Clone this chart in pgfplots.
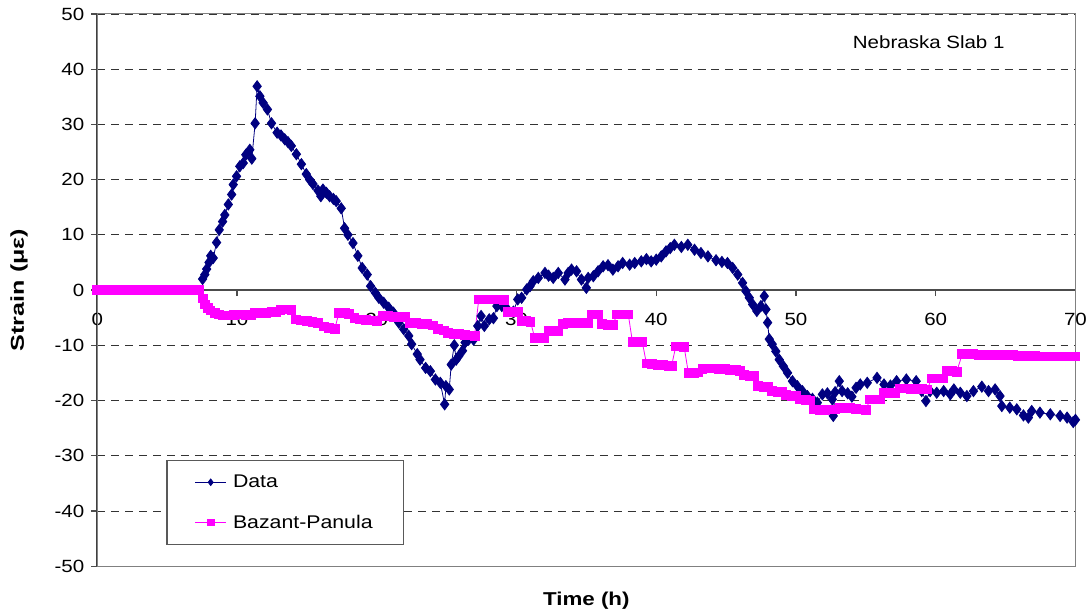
\documentclass[border=0pt]{standalone}
\usepackage{fontspec}
\setmainfont{Liberation Sans}
\usepackage{pgfplots}
\pgfplotsset{compat=1.18}
\definecolor{navy}{RGB}{0,0,128}
\definecolor{magen}{RGB}{255,0,255}
\definecolor{framegray}{RGB}{128,128,128}

\begin{document}
\begin{tikzpicture}[font=\fontsize{13.3}{16}\selectfont]
\begin{axis}[
  scale only axis,
  width=735.75pt, height=415.3pt,
  xmin=0, xmax=70, ymin=-50, ymax=50,
  axis x line=middle, axis y line=left,
  x axis line style={-, black!70, line width=0.9pt},
  y axis line style={-, black!75, line width=1.4pt},
  xtick={0,10,...,70}, ytick={-50,-40,...,50},
  tick align=outside, major tick length=4.5pt,
  tick style={black!70, line width=0.9pt},
  hide obscured x ticks=false,
  /pgf/number format/assume math mode=true,
  xticklabel style={anchor=north, xscale=1.16, yshift=-9.5pt},
  yticklabel style={anchor=east, xscale=1.16, xshift=-1pt},
  ymajorgrids,
  grid style={black!80, line width=0.6pt, dash pattern=on 6pt off 4.5pt},
  xlabel={\scalebox{1.2}[1]{\bfseries Time (h)}},
  ylabel={\scalebox{1.35}[1]{\bfseries Strain (με)}},
  xlabel style={at={(axis description cs:0.5,-0.062)}, anchor=center, font=\fontsize{14}{17}\selectfont},
  ylabel style={at={(axis description cs:-0.08,0.5)}, anchor=center, font=\fontsize{14}{17}\selectfont},
  clip=false,
  legend style={at={(axis description cs:0.0708,0.1927)}, anchor=north west,
    draw=black!65, line width=0.9pt, fill=white,
    inner xsep=21pt, inner ysep=9pt, row sep=15pt, column sep=3pt,
    font=\fontsize{13.8}{16}\selectfont, nodes={inner sep=2pt}},
  legend cell align=left,
  legend image code/.code={\draw[mark repeat=2,mark phase=2,#1] plot coordinates {(0pt,0pt) (11.5pt,0pt) (23pt,0pt)};},
  legend image post style={mark size=2.5pt},
]
\draw[framegray, line width=0.75pt] (rel axis cs:0,0) rectangle (rel axis cs:1,1);
\path (axis description cs:-0.0994,-0.089) rectangle (axis description cs:1.0138,1.0253);

% measured strain
\addplot[navy, line width=0.6pt, mark=diamond*, mark size=4.2pt] coordinates {
(7.54,2.0) (7.7,2.8) (7.83,3.8) (8.0,5.0) (8.12,6.2) (8.3,5.8) (8.54,8.6) (8.73,10.9)
(8.97,12.4) (9.13,13.6) (9.38,15.5) (9.62,17.3) (9.73,19.1) (9.97,20.6) (10.2,22.4)
(10.45,23.0) (10.63,24.5) (10.92,25.4) (11.06,23.8) (11.3,30.2) (11.44,36.9) (11.64,35.1)
(11.87,33.9) (12.18,32.7) (12.47,30.2) (12.87,28.5) (13.15,28.0) (13.42,27.3) (13.65,26.8)
(13.89,26.1) (14.25,24.6) (14.61,22.8) (14.96,21.0) (15.2,20.0) (15.44,19.2) (15.8,18.0)
(16.0,17.0) (16.15,18.2) (16.4,17.6) (16.63,17.0) (16.9,16.5) (17.1,16.1) (17.46,14.8)
(17.7,11.2) (17.94,10.0) (18.3,8.5) (18.65,6.2) (18.96,4.0) (19.32,2.8) (19.56,0.7)
(19.9,-0.5) (20.15,-1.4) (20.5,-2.3) (20.86,-3.2) (21.2,-4.1) (21.58,-5.9) (21.93,-7.1)
(22.29,-8.3) (22.5,-9.8) (22.9,-11.6) (23.1,-12.6) (23.5,-14.1) (23.84,-14.7) (24.2,-16.2)
(24.55,-16.8) (24.86,-20.7) (24.95,-17.4) (25.19,-18.0) (25.33,-13.5) (25.55,-10.0)
(25.69,-12.6) (25.86,-12.0) (26.14,-11.0) (26.33,-9.5) (26.57,-9.0) (26.93,-9.0)
(27.23,-6.5) (27.47,-4.7) (27.7,-6.5) (28.05,-5.3) (28.35,-5.1) (28.6,-2.9) (28.95,-2.9)
(29.3,-3.3) (29.78,-3.9) (30.09,-1.7) (30.37,-1.4) (30.73,0.1) (30.97,0.7) (31.2,1.6)
(31.56,2.2) (32.04,3.1) (32.3,2.6) (32.63,2.2) (32.99,3.1) (33.47,1.9) (33.7,3.1)
(33.94,3.7) (34.3,3.4) (34.65,1.9) (35.0,0.4) (35.13,2.2) (35.5,2.5) (35.84,3.4)
(36.2,4.3) (36.55,4.5) (36.9,3.7) (37.27,4.3) (37.6,4.9) (38.1,4.6) (38.46,4.9)
(38.93,5.2) (39.3,5.6) (39.64,5.2) (40.0,5.5) (40.36,6.1) (40.7,7.0) (41.0,7.6)
(41.3,8.2) (41.8,7.8) (42.26,8.2) (42.74,7.3) (43.2,6.7) (43.7,6.1) (44.28,5.4)
(44.7,5.1) (45.1,4.9) (45.47,4.0) (45.83,2.8) (46.18,1.3) (46.42,-0.2) (46.66,-1.4)
(46.9,-2.6) (47.2,-3.8) (47.49,-2.9) (47.73,-1.1) (47.85,-3.5) (47.97,-5.9) (48.09,-8.9)
(48.3,-9.8) (48.56,-11.1) (48.8,-12.6) (49.1,-13.8) (49.4,-15.0) (49.75,-16.5)
(50.1,-17.4) (50.46,-18.3) (50.82,-19.2) (51.18,-19.7) (51.53,-20.4) (51.89,-18.9)
(52.25,-18.7) (52.6,-19.8) (52.67,-22.8) (52.8,-18.5) (53.1,-16.5) (53.3,-18.3)
(53.7,-18.7) (54.0,-19.3) (54.3,-17.7) (54.6,-17.1) (55.1,-16.8) (55.8,-15.9)
(56.3,-17.1) (56.76,-17.3) (57.2,-16.5) (57.9,-16.2) (58.6,-16.5) (59.0,-18.3)
(59.3,-20.1) (59.6,-18.3) (60.07,-18.6) (60.57,-18.3) (61.04,-18.9) (61.3,-18.0)
(61.76,-18.6) (62.23,-19.2) (62.7,-18.3) (63.3,-17.5) (63.78,-18.3) (64.25,-18.0)
(64.6,-19.2) (64.73,-21.0) (65.3,-21.3) (65.8,-21.6) (66.28,-22.7) (66.63,-23.1)
(66.87,-21.9) (67.46,-22.2) (68.2,-22.5) (68.9,-22.8) (69.4,-23.1) (69.84,-23.9) (70.0,-23.5)
};
\addlegendentry{\scalebox{1.16}[1]{Data}}

% model prediction
\addplot[magen, line width=0.6pt, mark=square*, mark size=3.3pt] coordinates {
(0,0) (0.5,0) (1,0) (1.5,0) (2,0) (2.5,0) (3,0) (3.5,0) (4,0) (4.5,0) (5,0) (5.5,0)
(6,0) (6.5,0) (7,0) (7.3,0)
(7.55,-1.5) (7.7,-2.6) (7.9,-3.3) (8.1,-3.7) (8.4,-4.1) (8.7,-4.4) (9.0,-4.6) (9.4,-4.6)
(9.8,-4.5) (10.2,-4.4) (10.6,-4.5) (11.0,-4.6) (11.3,-4.2) (11.7,-4.1) (12.1,-4.1)
(12.5,-4.0) (12.8,-4.0) (13.1,-3.6) (13.5,-3.5) (13.9,-3.6)
(14.2,-5.3) (14.6,-5.5) (15.0,-5.6) (15.4,-5.8) (15.8,-6.0)
(16.2,-6.6) (16.6,-6.8) (17.0,-7.0)
(17.3,-4.1) (17.7,-4.2) (18.0,-4.3)
(18.4,-5.1) (18.8,-5.3) (19.2,-5.4) (19.6,-5.5) (20.0,-5.6)
(20.4,-4.7) (20.8,-4.7) (21.2,-4.8) (21.6,-4.8) (22.0,-4.9)
(22.4,-5.9) (22.8,-6.0) (23.2,-6.1) (23.6,-6.2) (24.0,-6.4)
(24.4,-7.0) (24.8,-7.3) (25.1,-7.7) (25.5,-7.9) (25.9,-8.0) (26.3,-8.1) (26.7,-8.2) (27.0,-8.3)
(27.3,-1.7) (27.7,-1.7) (28.1,-1.7) (28.5,-1.7) (28.9,-1.7) (29.1,-1.8)
(29.4,-3.9) (29.8,-4.0) (30.1,-4.0)
(30.4,-5.6) (30.7,-5.6) (31.0,-5.7)
(31.3,-8.6) (31.7,-8.6) (32.0,-8.7)
(32.3,-7.4) (32.7,-7.3) (33.0,-7.4)
(33.3,-6.1) (33.7,-6.0) (34.1,-6.0) (34.5,-6.0) (34.9,-5.9) (35.1,-5.9)
(35.4,-4.4) (35.8,-4.4)
(36.1,-6.2) (36.5,-6.3) (36.9,-6.3)
(37.2,-4.4) (37.6,-4.4) (38.0,-4.4)
(38.3,-9.4) (38.7,-9.4) (39.0,-9.4)
(39.3,-13.3) (39.7,-13.4) (40.1,-13.5) (40.5,-13.6) (40.9,-13.7) (41.1,-13.7)
(41.4,-10.2) (41.8,-10.2) (42.0,-10.3)
(42.3,-15.0) (42.7,-15.0) (43.0,-14.9)
(43.3,-14.3) (43.7,-14.2) (44.1,-14.2) (44.5,-14.3) (44.9,-14.3) (45.3,-14.4) (45.7,-14.5) (46.0,-14.6)
(46.3,-15.4) (46.7,-15.5) (47.0,-15.5)
(47.3,-17.4) (47.7,-17.5) (48.0,-17.6)
(48.3,-18.3) (48.7,-18.4) (49.0,-18.5)
(49.3,-19.0) (49.7,-19.1) (50.0,-19.2)
(50.3,-19.8) (50.7,-19.9) (51.0,-20.0)
(51.3,-21.6) (51.7,-21.7) (52.1,-21.7) (52.5,-21.6) (52.8,-21.6)
(53.1,-21.3) (53.5,-21.3) (53.9,-21.4) (54.3,-21.5) (54.7,-21.6) (55.0,-21.7)
(55.3,-19.8) (55.7,-19.8) (56.0,-19.8)
(56.3,-18.6) (56.7,-18.6) (57.1,-18.6)
(57.4,-17.8) (57.8,-17.8) (58.2,-17.9) (58.6,-17.9) (59.0,-17.9) (59.4,-18.0)
(59.7,-16.0) (60.1,-16.0) (60.5,-16.0)
(60.8,-14.7) (61.2,-14.7) (61.5,-14.8)
(61.9,-11.6) (62.3,-11.6) (62.7,-11.6) (63.1,-11.7) (63.5,-11.7) (63.9,-11.7) (64.3,-11.8)
(64.7,-11.8) (65.1,-11.8) (65.5,-11.8) (65.9,-11.9) (66.3,-11.9) (66.7,-11.9) (67.1,-11.9)
(67.5,-12.0) (67.9,-12.0) (68.3,-12.0) (68.7,-12.0) (69.1,-12.0) (69.5,-12.0) (69.9,-12.0) (70.0,-12.0)
};
\addlegendentry{\scalebox{1.16}[1]{Bazant-Panula}}

\node[xscale=1.16] at (axis cs:59.5,44.9) {Nebraska Slab 1};
\end{axis}
\end{tikzpicture}
\end{document}
